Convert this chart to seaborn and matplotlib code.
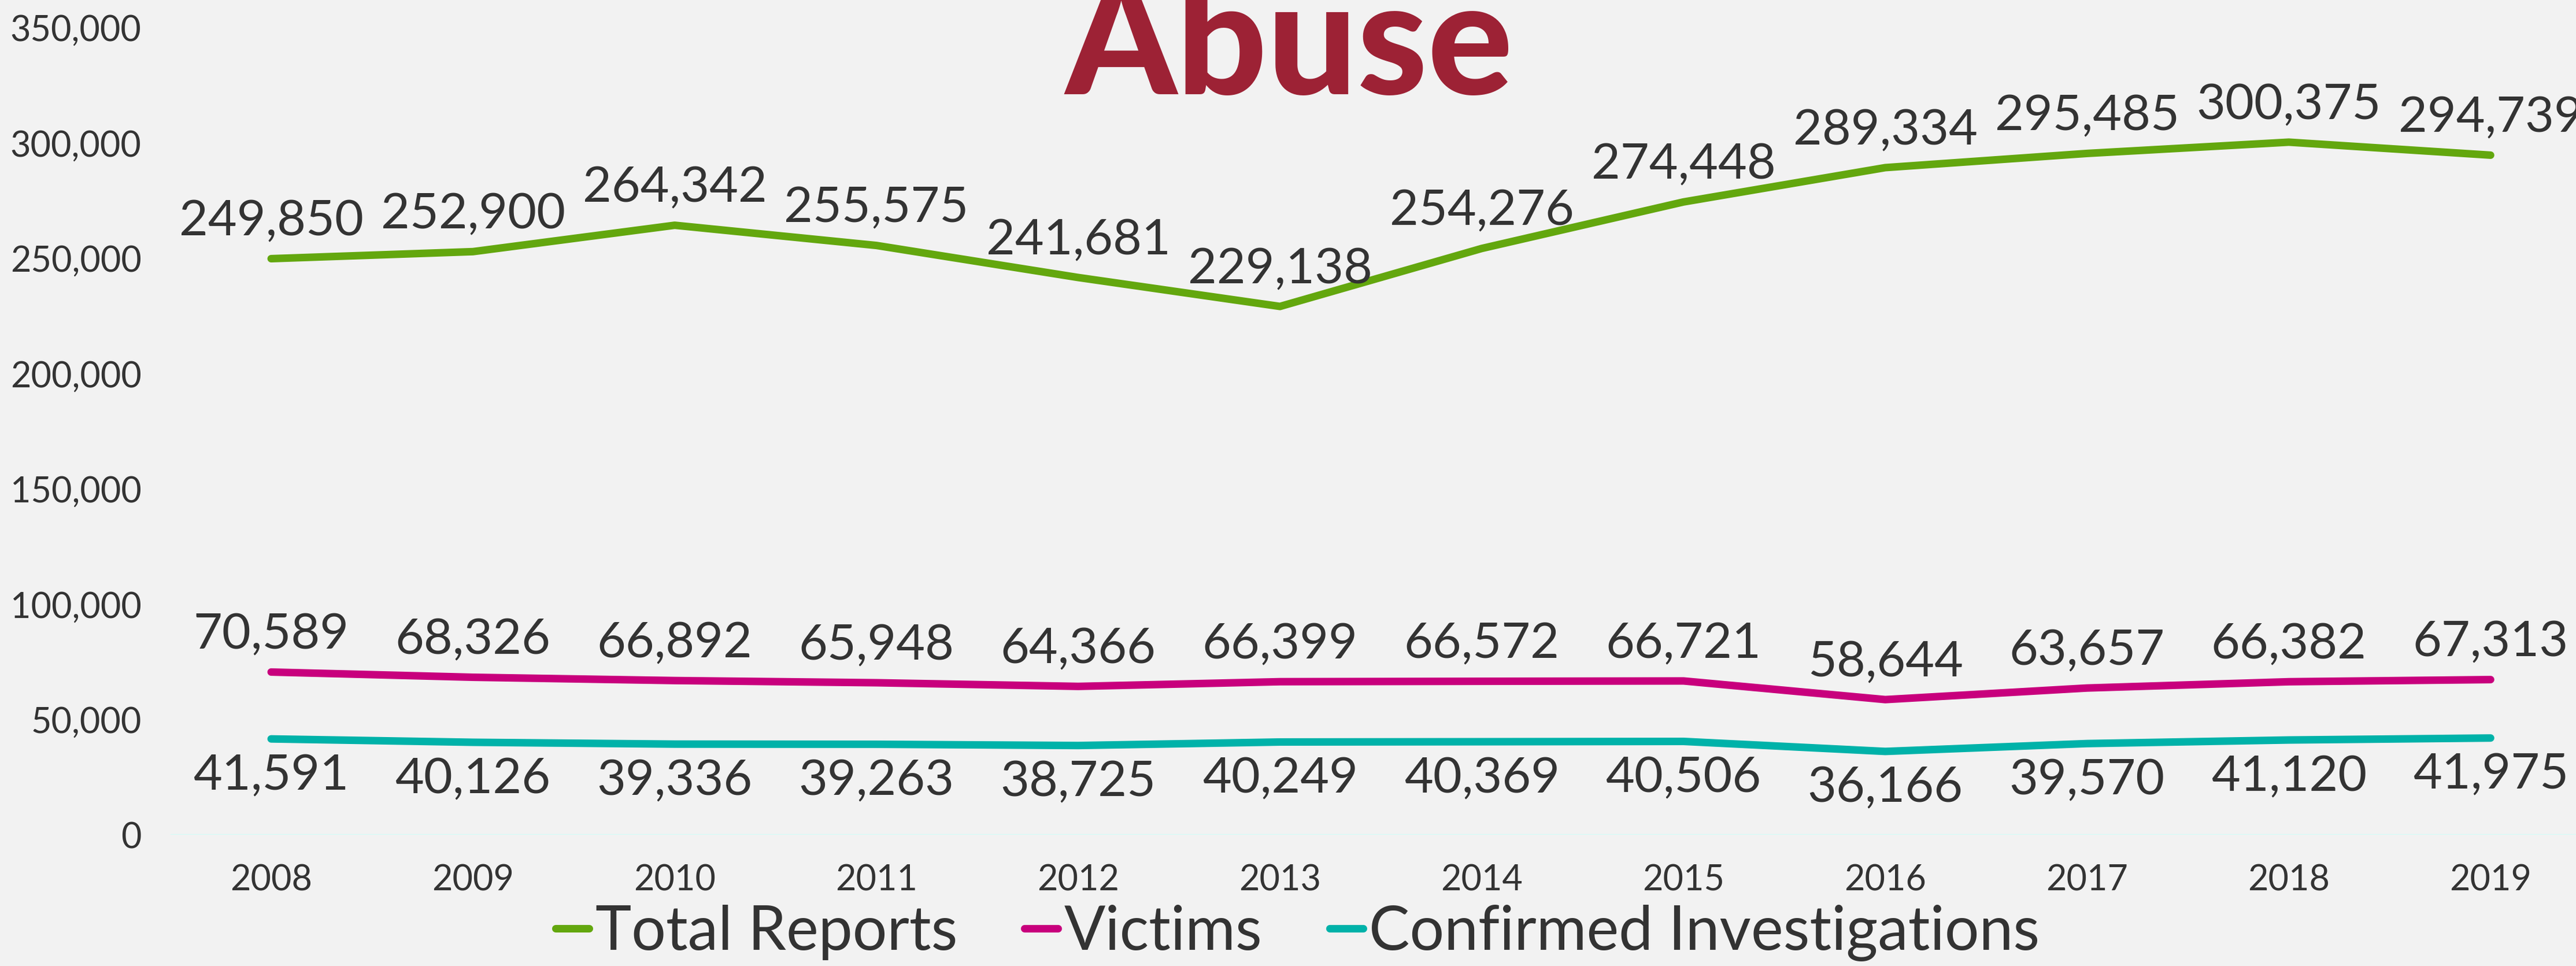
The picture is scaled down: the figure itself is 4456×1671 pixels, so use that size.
import pandas as pd
import matplotlib
matplotlib.use("Agg")
import matplotlib.pyplot as plt
from matplotlib.lines import Line2D
import seaborn as sns

# data
years = [2008, 2009, 2010, 2011, 2012, 2013, 2014, 2015, 2016, 2017, 2018, 2019]
total_reports = [249850, 252900, 264342, 255575, 241681, 229138,
                 254276, 274448, 289334, 295485, 300375, 294739]
victims = [70589, 68326, 66892, 65948, 64366, 66399,
           66572, 66721, 58644, 63657, 66382, 67313]
confirmed = [41591, 40126, 39336, 39263, 38725, 40249,
             40369, 40506, 36166, 39570, 41120, 41975]
series_names = ["Total Reports", "Victims", "Confirmed Investigations"]
colors = ["#63a70e", "#c8007d", "#00b2a9"]

# long form table for seaborn
df = pd.DataFrame({
    "year": years * 3,
    "count": total_reports + victims + confirmed,
    "series": [n for n in series_names for _ in years],
})

bg = "#f2f2f2"
txt = "#333333"

sns.set_style("white")
plt.rcParams["font.family"] = ["Lato", "DejaVu Sans"]

fig = plt.figure(figsize=(22.28, 8.355), dpi=200, facecolor=bg)
ax = fig.add_axes([0.0661, 0.1358, 0.9399, 0.8355])
ax.set_facecolor(bg)

ax.axhline(0, color="#d4fbf6", lw=1.2, zorder=1)

sns.lineplot(data=df, x="year", y="count", hue="series", palette=colors,
             hue_order=series_names, linewidth=4.7, sort=False, ax=ax,
             legend=False, solid_capstyle="round", zorder=3)

# value labels: above for the first two series, below for the last
offsets = [23, 23, -23]
for vals, off in zip([total_reports, victims, confirmed], offsets):
    for x, v in zip(years, vals):
        ax.annotate(f"{v:,}", (x, v), xytext=(0, off), textcoords="offset points",
                    ha="center", va="center", fontsize=31, color=txt,
                    fontweight="normal", annotation_clip=False)

ax.set_xlim(2007.5, 2019.5)
ax.set_ylim(0, 350000)
ax.set_xticks(years)
ax.set_xticklabels([str(y) for y in years])
ax.set_yticks(range(0, 350001, 50000))
ax.set_yticklabels([f"{t:,}" for t in range(0, 350001, 50000)])
ax.tick_params(axis="both", length=0, labelsize=22, colors=txt)
ax.tick_params(axis="x", pad=18)
ax.tick_params(axis="y", pad=18)
ax.set_xlabel("")
ax.set_ylabel("")
sns.despine(ax=ax, left=True, bottom=True)

fig.text(0.5005, 0.9025, "Abuse", ha="center", va="baseline", fontsize=99,
         fontweight="black", color="#9d2235")

handles = [Line2D([], [], color=c, lw=4.7, solid_capstyle="round") for c in colors]
fig.legend(handles, series_names, loc="center", bbox_to_anchor=(0.5038, 0.034),
           ncol=3, frameon=False, fontsize=38, labelcolor=txt,
           handlelength=0.55, handletextpad=0.1, columnspacing=1.1)

fig.savefig("out.png", dpi=200, facecolor=bg)
